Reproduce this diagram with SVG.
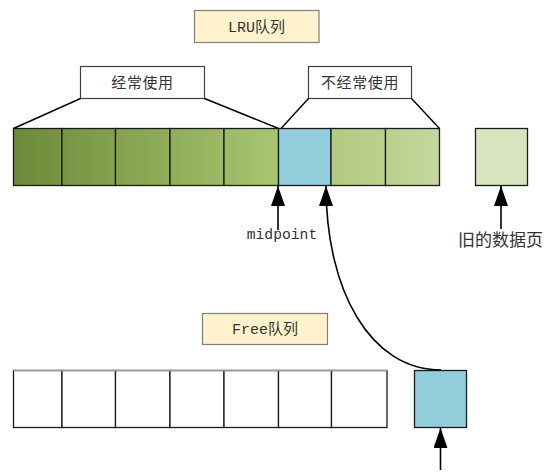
<svg xmlns="http://www.w3.org/2000/svg" width="554" height="474" viewBox="0 0 554 474">
<style>
.lbl{fill:#fff2cc;stroke:#7f7f7f;stroke-width:1.2}
.tag{fill:#ffffff;stroke:#404040;stroke-width:1.2}
.cell{stroke:#1a1a1a;stroke-width:1.3}
.free{fill:#ffffff;stroke:#1a1a1a;stroke-width:1.3}
.t{font-family:"Liberation Mono","Noto Sans CJK SC",monospace;fill:#333333;text-anchor:middle}
.cjk{font-family:"Noto Sans CJK SC",sans-serif;fill:#333333;text-anchor:middle}
.ln{fill:none;stroke:#000000;stroke-width:1.4}
.arr{fill:none;stroke:#000000;stroke-width:1.6;marker-end:url(#ah)}
</style>
<defs>
<marker id="ah" markerUnits="userSpaceOnUse" markerWidth="20" markerHeight="14" refX="20" refY="7" orient="auto">
<path d="M0,0 L20,7 L0,14 z" fill="#000000"/>
</marker>
<linearGradient id="gHot" gradientUnits="userSpaceOnUse" x1="13.5" y1="0" x2="278.5" y2="0">
<stop offset="0" stop-color="#6d8a3a"/>
<stop offset="1" stop-color="#a8c571"/>
</linearGradient>
<linearGradient id="gCold" gradientUnits="userSpaceOnUse" x1="331" y1="0" x2="439.5" y2="0">
<stop offset="0" stop-color="#b1ca7e"/>
<stop offset="1" stop-color="#c4d79e"/>
</linearGradient>
</defs>

<g id="lru-label">
<rect class="lbl" x="194.5" y="10.5" width="124.5" height="32"/>
<text class="t" x="256.5" y="31.5" font-size="15">LRU队列</text>
</g>

<g id="hot-label">
<rect class="tag" x="80.5" y="66.5" width="124" height="32"/>
<text class="cjk" x="142.5" y="87.5" font-size="15" letter-spacing="0.6">经常使用</text>
</g>

<g id="cold-label">
<rect class="tag" x="308.5" y="66.5" width="103" height="32"/>
<text class="cjk" x="360" y="87.5" font-size="15" letter-spacing="0.6">不经常使用</text>
</g>

<g id="lru-queue">
<rect class="cell" x="13.5" y="128.5" width="48.5" height="57" fill="url(#gHot)"/>
<rect class="cell" x="62" y="128.5" width="53.5" height="57" fill="url(#gHot)"/>
<rect class="cell" x="115.5" y="128.5" width="54.5" height="57" fill="url(#gHot)"/>
<rect class="cell" x="170" y="128.5" width="54" height="57" fill="url(#gHot)"/>
<rect class="cell" x="224" y="128.5" width="54.5" height="57" fill="url(#gHot)"/>
<rect class="cell" x="278.5" y="128.5" width="52.5" height="57" fill="#92cddc"/>
<rect class="cell" x="331" y="128.5" width="54.5" height="57" fill="url(#gCold)"/>
<rect class="cell" x="385.5" y="128.5" width="54" height="57" fill="url(#gCold)"/>
</g>

<g id="old-page">
<rect class="cell" x="475.5" y="128.5" width="52" height="57" fill="#d7e4bd" stroke="#333333"/>
<text class="cjk" x="500.5" y="245.5" font-size="17">旧的数据页</text>
</g>

<g id="midpoint-label">
<text class="t" x="282" y="238.5" font-size="14.7">midpoint</text>
</g>

<g id="free-label">
<rect class="lbl" x="202.5" y="313.5" width="125" height="31"/>
<text class="t" x="265" y="334" font-size="15">Free队列</text>
</g>

<g id="free-queue">
<rect class="free" x="13.5" y="370.5" width="48.5" height="57"/>
<rect class="free" x="62" y="370.5" width="53.5" height="57"/>
<rect class="free" x="115.5" y="370.5" width="54.5" height="57"/>
<rect class="free" x="170" y="370.5" width="54" height="57"/>
<rect class="free" x="224" y="370.5" width="54.5" height="57"/>
<rect class="free" x="278.5" y="370.5" width="53" height="57"/>
<rect class="free" x="331.5" y="370.5" width="55.5" height="57"/>
<line x1="13.5" y1="370.5" x2="387" y2="370.5" stroke="#9a9a9a" stroke-width="1.3"/>
</g>

<g id="free-page">
<rect class="cell" x="414.5" y="370.5" width="52" height="57" fill="#92cddc" stroke="#333333"/>
</g>

<g id="connectors">
<path class="ln" d="M80.5,98.5 L13.5,128.5"/>
<path class="ln" d="M204.5,98.5 L278.5,128.5"/>
<path class="ln" d="M308.5,98.5 L281,128.5"/>
<path class="ln" d="M411.5,98.5 L439.5,128.5"/>
<path class="arr" d="M278,230 L278,186"/>
<path class="arr" d="M501,229 L501,186"/>
<path class="arr" d="M441,370 C370,370 326,290 326,186"/>
<path class="arr" d="M440.5,470 L440.5,428"/>
</g>
</svg>
